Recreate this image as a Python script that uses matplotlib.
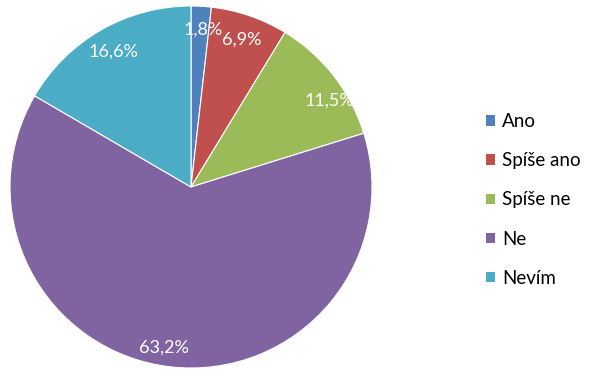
import numpy as np
import matplotlib
matplotlib.use("Agg")
import matplotlib.pyplot as plt

# Data
labels = ["Ano", "Spíše ano", "Spíše ne", "Ne", "Nevím"]
values = [1.8, 6.9, 11.5, 63.2, 16.6]
pct_labels = ["1,8%", "6,9%", "11,5%", "63,2%", "16,6%"]
colors = ["#4F81BD", "#C0504D", "#9BBB59", "#8064A2", "#4BACC6"]

plt.rcParams["font.family"] = ["Lato", "DejaVu Sans"]

fig = plt.figure(figsize=(6.0, 3.77), dpi=100)
fig.patch.set_facecolor("white")

# pie area in pixels: center (191, 187), radius 181
cx, cy, r = 191, 187, 181
ax = fig.add_axes([(cx - r) / 600, (377 - cy - r) / 377, 2 * r / 600, 2 * r / 377])

wedges, _ = ax.pie(values, colors=colors, startangle=90, counterclock=False,
                   radius=1.0, wedgeprops=dict(linewidth=0.8, edgecolor="white"))
ax.set_xlim(-1, 1)
ax.set_ylim(-1, 1)
ax.set_aspect("equal")
ax.axis("off")

# label distances from centre (fraction of radius)
dist = [0.87, 0.86, 0.9, 0.9, 0.86]
shift = [-1, 0, -6, -3, 0]
for w, t, d, s in zip(wedges, pct_labels, dist, shift):
    ang = np.deg2rad((w.theta1 + w.theta2) / 2 + s)
    ax.text(d * np.cos(ang), d * np.sin(ang), t, ha="center", va="center",
            color="white", fontsize=13)

leg = ax.legend(wedges, labels, loc="center left",
                bbox_to_anchor=(486 / 600, (377 - 200) / 377),
                bbox_transform=fig.transFigure, frameon=False, fontsize=13.5,
                handlelength=0.5, handleheight=0.5, handletextpad=0.35,
                labelspacing=1.18, borderpad=0, borderaxespad=0)
for h in leg.legend_handles:
    h.set_edgecolor("none")

fig.savefig("out.png", dpi=100)
